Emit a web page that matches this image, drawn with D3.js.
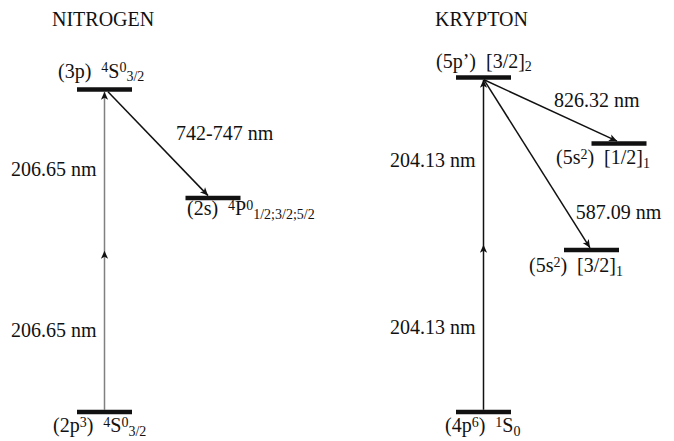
<!DOCTYPE html>
<html lang="en">
<head>
<meta charset="utf-8">
<title>nitrogen / krypton levels</title>
<script src="https://d3js.org/d3.v7.min.js"></script>
<style>
  body{margin:0;background:#fff;}
  text{fill:#111;white-space:pre;}
</style>
</head>
<body>
<div id="chart"></div>
<script>
// panel titles
var titles = ["NITROGEN", "KRYPTON"]

// level energies in diagram units (not to scale)
var nitrogenEnergy = [0, 96.4, 64.0]
var kryptonEnergy = [0, 100, 80.3, 48.4]

// level labels, as [text, kind] pieces
var nitrogenLabels = [
  [["(2p"], ["3","sup"], [")  "], ["4","sup"], ["S"], ["0","sup"], ["3/2","sub"]],
  [["(3p)  "], ["4","sup"], ["S"], ["0","sup"], ["3/2","sub"]],
  [["(2s)  "], ["4","sup"], ["P"], ["0","sup"], ["1/2;3/2;5/2","sub"]]
]
var kryptonLabels = [
  [["(4p"], ["6","sup"], [")  "], ["1","sup"], ["S"], ["0","sub"]],
  [["(5p\u2019)  [3/2]"], ["2","sub"]],
  [["(5s"], ["2","sup"], [")  [1/2]"], ["1","sub"]],
  [["(5s"], ["2","sup"], [")  [3/2]"], ["1","sub"]]
]

// transitions: from level -> to level, wavelength text
var nitrogenTransitions = [
  {from:0, to:1, text:"206.65 nm", twoPhoton:true},
  {from:1, to:2, text:"742-747 nm"}
]
var kryptonTransitions = [
  {from:0, to:1, text:"204.13 nm", twoPhoton:true},
  {from:1, to:2, text:"826.32 nm"},
  {from:1, to:3, text:"587.09 nm"}
]

// ---- layout (positions inside each panel) ----
var W = 674, H = 441
var FONT = "Liberation Serif"
var layout = {
  NITROGEN: {
    titleX: 52,
    levelX: [104.5, 104.5, 213],
    labelPos: [[-51.5, 20], [-46.5, -12], [-26, 17.5]],
    startDx: [0, 3.5, 0], endDx: [0, 0, -5],
    transLabel: [null, {t:0.5, dx:18, dy:-4}],
    lineColor: ["#808080", "#111"]
  },
  KRYPTON: {
    titleX: 98,
    levelX: [146.5, 146.5, 282, 254.5],
    labelPos: [[-38.5, 20], [-47.5, -10], [-63, 21], [-62.5, 22]],
    startDx: [0, 0.5, 0, 0], endDx: [0, 0, -2, -1.5],
    transLabel: [null, {t:0.5, dx:3.5, dy:-3}, {t:0.8, dx:7, dy:5}],
    lineColor: ["#111", "#111", "#111"]
  }
}
var levelHalf = 27.5

var svg = d3.select("#chart").append("svg")
  .attr("width", W).attr("height", H)
  .attr("font-family", FONT)

var panelScale = d3.scaleBand().domain(titles).range([0, W])
var yScale = d3.scaleLinear().domain([0, 100]).range([412, 77.5])

function richText(sel, pieces){
  var shift = 0
  pieces.forEach(function(p){
    var target = p[1] === "sup" ? -5.5 : p[1] === "sub" ? 3.5 : 0
    sel.append("tspan")
      .attr("dy", target - shift)
      .attr("font-size", p[1] ? 14 : 20)
      .text(p[0])
    shift = target
  })
}

// small latex-like arrow head, tip at (x,y), pointing along angle
function arrowHead(g, x, y, angle){
  g.append("path")
    .attr("d", "M0,0 L-8,-3.6 L-6,0 L-8,3.6 Z")
    .attr("transform", "translate(" + x + "," + y + ") rotate(" + angle + ")")
    .attr("fill", "#111")
}

function drawPanel(title, energy, labels, transitions){
  var L = layout[title]
  var x0 = panelScale(title)
  var g = svg.append("g").attr("transform", "translate(" + x0 + ",0)")

  g.append("text").attr("x", L.titleX).attr("y", 26)
    .attr("font-size", 20).text(title)

  // transitions
  transitions.forEach(function(d, i){
    var x1 = L.levelX[d.from] + L.startDx[d.from]
    var x2 = L.levelX[d.to] + L.endDx[d.to]
    var y1 = yScale(energy[d.from])
    var y2 = yScale(energy[d.to])
    y1 += y1 > y2 ? -2.3 : 2.3
    y2 += y1 > y2 ? 2.3 : -2.3
    g.append("line")
      .attr("x1", x1).attr("y1", y1).attr("x2", x2).attr("y2", y2)
      .attr("stroke", L.lineColor[i]).attr("stroke-width", 1.5)
    var ang = Math.atan2(y2 - y1, x2 - x1) * 180 / Math.PI
    arrowHead(g, x2, y2, ang)
    if (d.twoPhoton) {
      var ym = (yScale(energy[d.from]) + yScale(energy[d.to])) / 2
      arrowHead(g, x1, ym, ang)
      ;[0.25, 0.75].forEach(function(f){
        var yy = yScale(energy[d.from]) + (yScale(energy[d.to]) - yScale(energy[d.from])) * f
        g.append("text").attr("x", x1 - 8).attr("y", yy + 6)
          .attr("text-anchor", "end").attr("font-size", 20).text(d.text)
      })
    } else {
      var p = L.transLabel[i]
      g.append("text")
        .attr("x", x1 + (x2 - x1) * p.t + p.dx)
        .attr("y", y1 + (y2 - y1) * p.t + p.dy)
        .attr("font-size", 20).text(d.text)
    }
  })

  // levels
  g.selectAll(".level").data(energy).enter().append("line")
    .attr("class", "level")
    .attr("x1", function(d, i){ return L.levelX[i] - levelHalf })
    .attr("x2", function(d, i){ return L.levelX[i] + levelHalf })
    .attr("y1", function(d){ return yScale(d) })
    .attr("y2", function(d){ return yScale(d) })
    .attr("stroke", "#111").attr("stroke-width", 4.5)

  labels.forEach(function(pieces, i){
    var t = g.append("text")
      .attr("x", L.levelX[i] + L.labelPos[i][0])
      .attr("y", yScale(energy[i]) + L.labelPos[i][1])
      .attr("font-size", 20)
    richText(t, pieces)
  })
}

drawPanel("NITROGEN", nitrogenEnergy, nitrogenLabels, nitrogenTransitions)
drawPanel("KRYPTON", kryptonEnergy, kryptonLabels, kryptonTransitions)
</script>
</body>
</html>
